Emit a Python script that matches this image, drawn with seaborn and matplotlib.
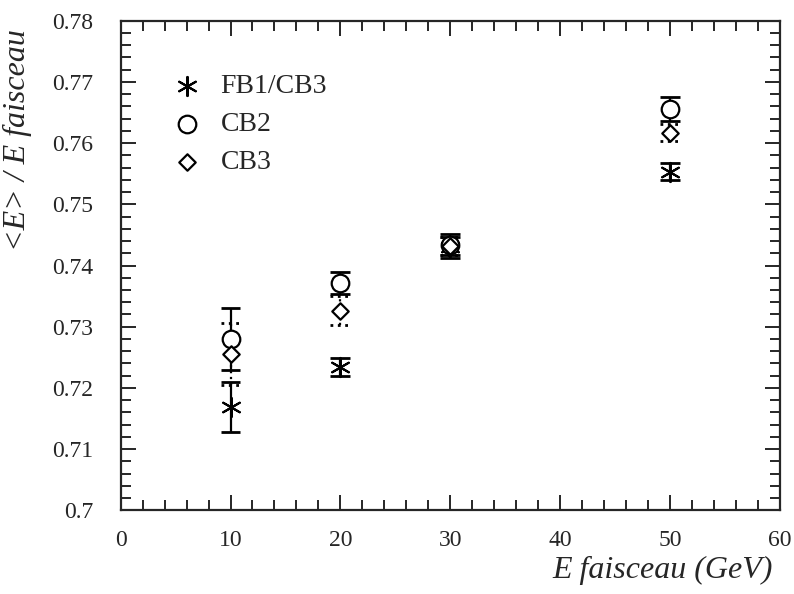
import numpy as np
import pandas as pd
import matplotlib
matplotlib.use("Agg")
import matplotlib.pyplot as plt
from matplotlib.ticker import MultipleLocator, FuncFormatter
import seaborn as sns

# ---- data ----
energies = [10, 20, 30, 50]
fb1_cb3 = [0.7169, 0.7234, 0.7430, 0.7553]
fb1_cb3_err = [0.0041, 0.0015, 0.0017, 0.0014]
cb2 = [0.7280, 0.7371, 0.7434, 0.7656]
cb2_err = [0.0051, 0.0018, 0.0017, 0.0019]
cb3 = [0.7255, 0.7326, 0.7432, 0.7617]
cb3_err = [0.0051, 0.0024, 0.0015, 0.0014]
series_names = ["FB1/CB3", "CB2", "CB3"]
x_ticks = [0, 10, 20, 30, 40, 50, 60]
y_ticks = [0.70, 0.71, 0.72, 0.73, 0.74, 0.75, 0.76, 0.77, 0.78]

df = pd.DataFrame({
    "E": energies * 3,
    "val": fb1_cb3 + cb2 + cb3,
    "err": fb1_cb3_err + cb2_err + cb3_err,
    "serie": [series_names[0]] * 4 + [series_names[1]] * 4 + [series_names[2]] * 4,
})

sns.set_style("ticks")
plt.rcParams["font.family"] = ["Liberation Serif", "DejaVu Serif"]

fig = plt.figure(figsize=(7.94, 5.94), dpi=100)
ax = fig.add_axes([0.152, 0.141, 0.830, 0.824])

styles = {
    "FB1/CB3": dict(marker=(6, 2, 0), s=190, ls="-"),
    "CB2": dict(marker="o", s=160, ls="-"),
    "CB3": dict(marker="D", s=70, ls=":"),
}
cap_half = 0.9

for name in series_names:
    sub = df[df["serie"] == name]
    st = styles[name]
    eb = ax.errorbar(sub["E"], sub["val"], yerr=sub["err"], fmt="none",
                     ecolor="black", elinewidth=1.6, capsize=0, zorder=2)
    eb[2][0].set_linestyle(st["ls"])
    ax.hlines(np.concatenate([sub["val"] + sub["err"], sub["val"] - sub["err"]]),
              np.concatenate([sub["E"] - cap_half] * 2),
              np.concatenate([sub["E"] + cap_half] * 2),
              colors="black", linewidth=2.0, linestyles=st["ls"], zorder=2)
    if name == "FB1/CB3":
        sns.scatterplot(data=sub, x="E", y="val", marker=st["marker"], s=st["s"],
                        color="black", linewidth=1.5, ax=ax, label=name, zorder=3)
    else:
        sns.scatterplot(data=sub, x="E", y="val", marker=st["marker"], s=st["s"],
                        facecolor="white", edgecolor="black", linewidth=1.6,
                        ax=ax, label=name, zorder=3)

ax.set_xlim(0, 60)
ax.set_ylim(0.70, 0.78)
ax.set_xticks(x_ticks)
ax.set_yticks(y_ticks)
ax.xaxis.set_minor_locator(MultipleLocator(2))
ax.yaxis.set_minor_locator(MultipleLocator(0.002))
ax.yaxis.set_major_formatter(FuncFormatter(lambda v, p: f"{v:g}"))
ax.tick_params(which="both", direction="in", top=True, right=True,
               labelsize=17, width=1.4)
ax.tick_params(axis="x", which="major", pad=14)
ax.tick_params(axis="y", which="major", pad=20)
ax.tick_params(which="major", length=11)
ax.tick_params(which="minor", length=7)
for sp in ax.spines.values():
    sp.set_linewidth(1.6)

ax.set_xlabel("E faisceau (GeV)", fontsize=23, style="italic")
ax.xaxis.set_label_coords(0.989, -0.094)
ax.xaxis.label.set_horizontalalignment("right")
ax.set_ylabel("<E> / E faisceau", fontsize=23, style="italic")
ax.yaxis.set_label_coords(-0.134, 0.982)
ax.yaxis.label.set_horizontalalignment("right")

leg = ax.legend(loc="upper left", bbox_to_anchor=(0.059, 0.915), frameon=False,
                fontsize=20, handlelength=1.2, handletextpad=0.6,
                labelspacing=0.45, borderaxespad=0.0)

fig.savefig("out.png", dpi=100)
